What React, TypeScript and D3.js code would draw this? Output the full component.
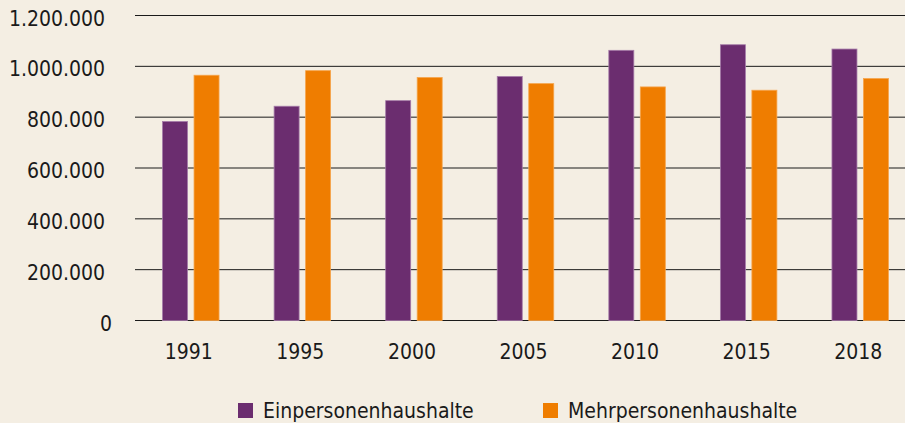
import React from "react";
import * as d3 from "d3";

const years = ["1991", "1995", "2000", "2005", "2010", "2015", "2018"];
const einpersonen = [783000, 843000, 865000, 960000, 1063000, 1085000, 1068000];
const mehrpersonen = [965000, 983000, 956000, 932000, 919000, 906000, 952000];
const yTicks = [0, 200000, 400000, 600000, 800000, 1000000, 1200000];
const seriesNames = ["Einpersonenhaushalte", "Mehrpersonenhaushalte"];
const seriesColors = ["#6B2D6F", "#EF7D00"];
const seriesStroke = ["#A57BA8", "#F5A54D"];

const W = 905;
const H = 423;
const FONT = "'DejaVu Sans Condensed', 'DejaVu Sans', sans-serif";

const fmt = (v: number) =>
  v === 0 ? "0" : d3.format(",")(v).replace(/,/g, ".");

export default function App() {
  const x = d3.scaleBand<string>().domain(years).range([135, 916]);
  const y = d3.scaleLinear().domain([0, 1200000]).range([320.5, 15.5]);
  const barW = 25;
  const gap = 6.5;
  const series = [einpersonen, mehrpersonen];

  return (
    <svg
      width={W}
      height={H}
      style={{ position: "absolute", left: 0, top: 0, display: "block", background: "#F4EEE3" }}
    >
      <rect x={0} y={0} width={W} height={H} fill="#F4EEE3" />
      {yTicks.map((t) => (
        <g key={t}>
          <line x1={135} x2={W} y1={y(t)} y2={y(t)} stroke="#1a1a1a" strokeWidth={1} />
          <text
            x={t === 0 ? 112 : 105}
            y={y(t) + 10}
            textAnchor="end"
            fontFamily={FONT}
            fontStretch="condensed"
            fontSize={21}
            fill="#1a1a1a"
          >
            {fmt(t)}
          </text>
        </g>
      ))}
      {years.map((yr, i) => {
        const c = (x(yr) as number) + x.bandwidth() / 2;
        return (
          <g key={yr}>
            {series.map((vals, s) => {
              const bx = s === 0 ? c - gap / 2 - barW : c + gap / 2;
              return (
                <rect
                  key={s}
                  x={bx}
                  y={y(vals[i])}
                  width={barW}
                  height={y(0) - y(vals[i])}
                  fill={seriesColors[s]}
                  stroke={seriesStroke[s]}
                  strokeWidth={0.8}
                />
              );
            })}
            <text
              x={c - 2}
              y={359}
              textAnchor="middle"
              fontFamily={FONT}
              fontStretch="condensed"
              fontSize={21}
              fill="#1a1a1a"
            >
              {yr}
            </text>
          </g>
        );
      })}
      {seriesNames.map((name, s) => {
        const lx = s === 0 ? 238 : 543;
        return (
          <g key={name}>
            <rect x={lx} y={403} width={15} height={15} fill={seriesColors[s]} />
            <text
              x={lx + 25}
              y={418}
              fontFamily={FONT}
              fontStretch="condensed"
              fontSize={21}
              fill="#1a1a1a"
            >
              {name}
            </text>
          </g>
        );
      })}
    </svg>
  );
}
